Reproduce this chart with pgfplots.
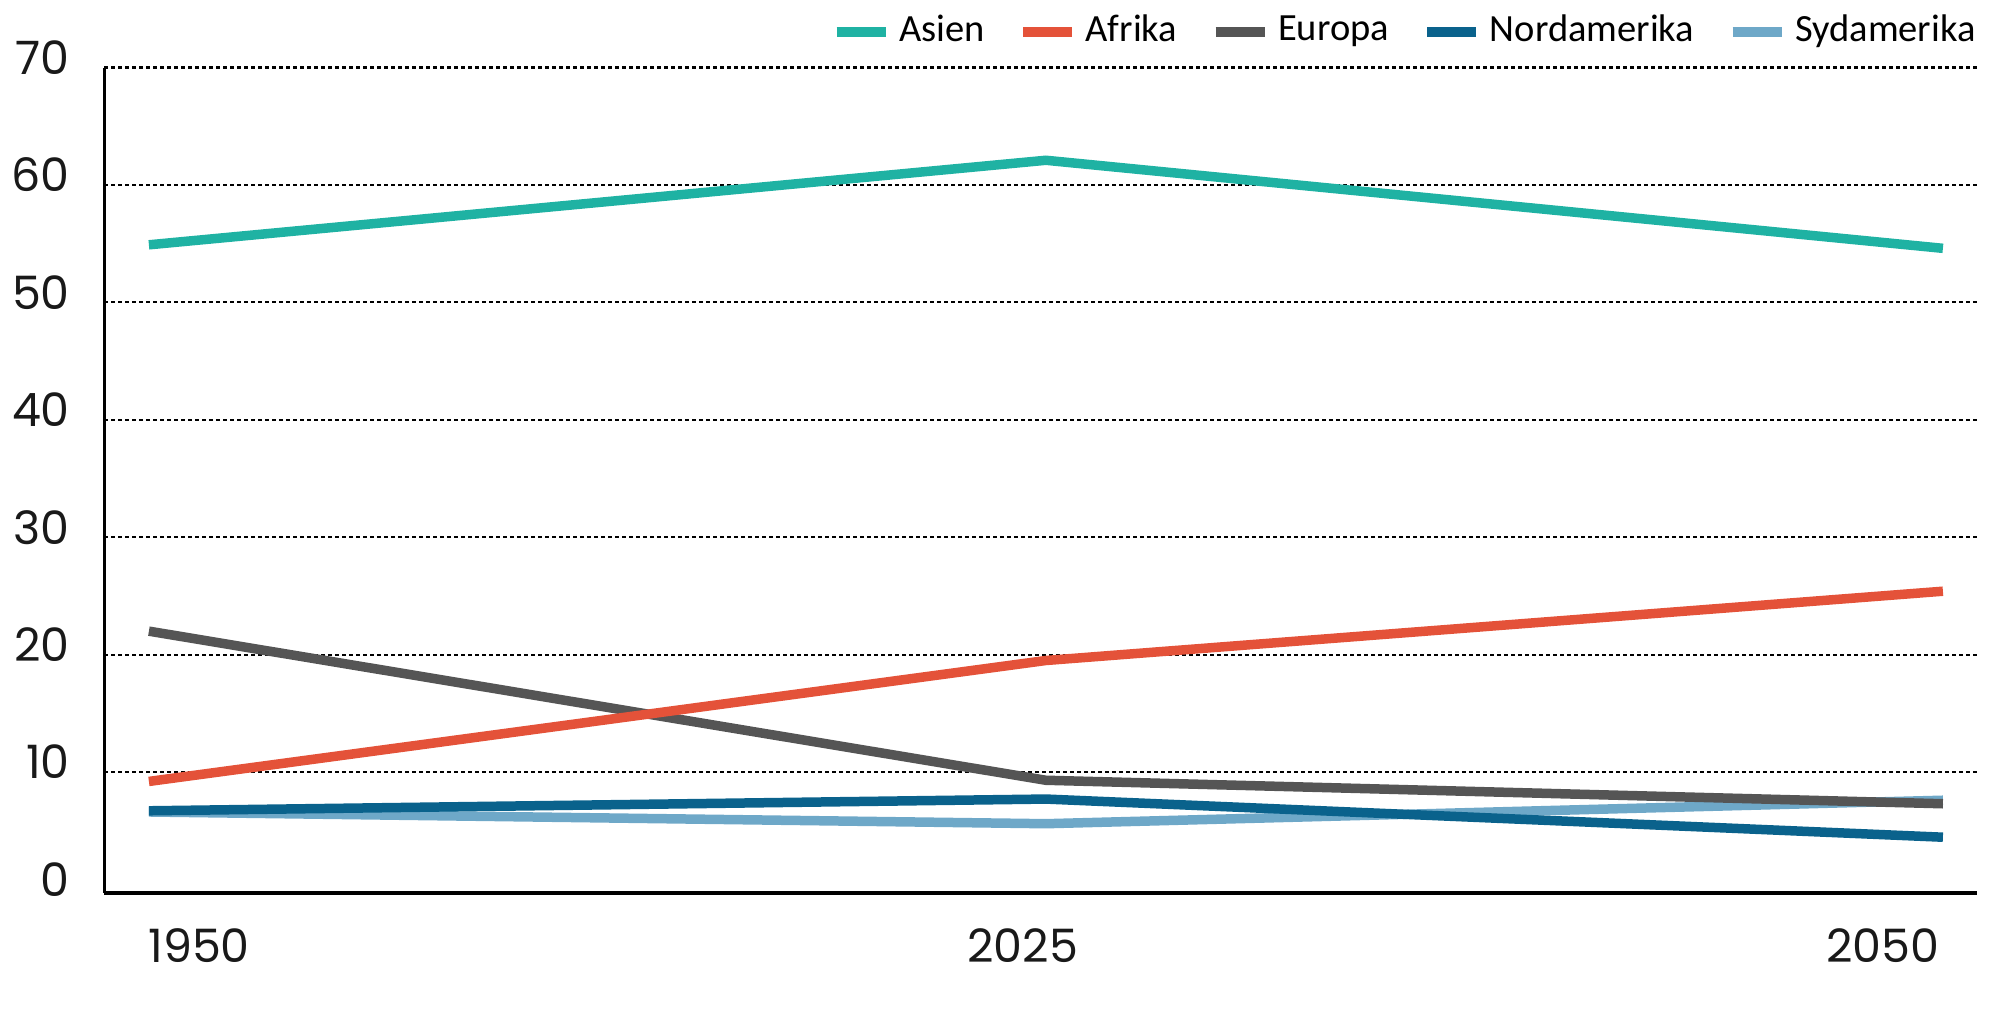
\documentclass[border=0pt]{standalone}
\usepackage{pgfplots}
\pgfplotsset{compat=1.18}
\usepackage{fontspec}
\setmainfont{Carlito}
\newfontfamily\tickfont{Poppins}

\definecolor{asien}{RGB}{31,178,163}
\definecolor{afrika}{RGB}{228,82,57}
\definecolor{europa}{RGB}{85,85,85}
\definecolor{nordam}{RGB}{10,98,140}
\definecolor{sydam}{RGB}{110,168,200}

\begin{document}
\begin{tikzpicture}
\useasboundingbox (-20.9pt,-25pt) rectangle (379.1pt,178.6pt);
\begin{axis}[
    at={(0,0)}, anchor=south west,
    scale only axis,
    width=374.5pt, height=165.1pt,
    xmin=-0.0495, xmax=2.038,
    ymin=-0.3, ymax=70,
    axis x line*=bottom, axis y line*=left,
    axis line style={-, line width=0.7pt, black},
    xtick={0.056,0.974,1.933},
    xticklabels={1950,2025,2050},
    ytick={10,20,30,40,50,60,70},
    extra y ticks={0},
    extra y tick style={grid=none},
    major tick length=0pt,
    ymajorgrids=true,
    grid style={black, line width=0.45pt, dash pattern=on 0.8pt off 0.6pt},
    /pgf/number format/assume math mode=true,
    ticklabel style={font=\tickfont\fontsize{9.2}{11}\selectfont, text=black!90},
    yticklabel style={xshift=-3.4pt, yshift=2pt},
    xticklabel style={yshift=-3.6pt},
    reverse legend,
    legend columns=-1,
    legend style={at={(1.0,1.043)}, anchor=east, xshift=1.6pt, draw=none, fill=none,
        font=\fontsize{7.7}{9}\selectfont, inner sep=0pt,
        nodes={inner xsep=1.7pt},
        /tikz/every even column/.append style={column sep=5pt}},
    legend image code/.code={\draw[#1, line width=2pt] (0pt,0pt) -- (9.8pt,0pt);},
    every axis plot/.append style={line width=1.9pt, line join=miter},
]
\addplot[color=sydam] coordinates {(0,6.6) (1,5.6) (2,7.6)};
\addplot[color=nordam] coordinates {(0,6.7) (1,7.7) (2,4.45)};
\addplot[color=europa] coordinates {(0,22.0) (1,9.3) (2,7.3)};
\addplot[color=afrika] coordinates {(0,9.2) (1,19.5) (2,25.4)};
\addplot[color=asien] coordinates {(0,54.9) (1,62.1) (2,54.6)};
\legend{Sydamerika, Nordamerika, Europa, Afrika, Asien}
\end{axis}
\end{tikzpicture}
\end{document}
